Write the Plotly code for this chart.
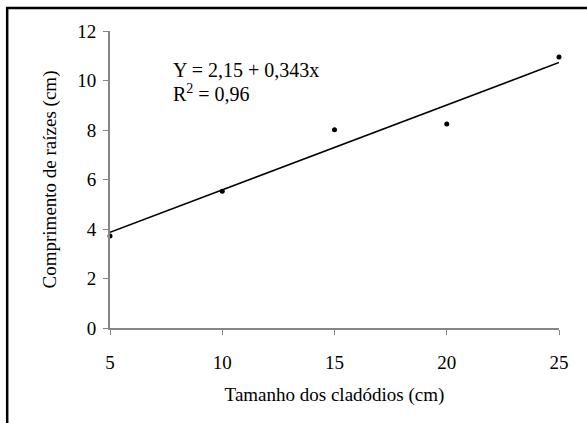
import plotly.graph_objects as go

x_vals = [5, 10, 15, 20, 25]
y_vals = [3.72, 5.53, 8.01, 8.24, 10.95]
fit_a = 2.15
fit_b = 0.343
x_ticks = [5, 10, 15, 20, 25]
y_ticks = [0, 2, 4, 6, 8, 10, 12]

fit_x = [min(x_vals), max(x_vals)]
fit_y = [fit_a + fit_b * v for v in fit_x]

font_family = "Liberation Serif"

fig = go.Figure()
fig.add_trace(go.Scatter(x=fit_x, y=fit_y, mode="lines",
                         line=dict(color="black", width=1.5), showlegend=False))
fig.add_trace(go.Scatter(x=x_vals, y=y_vals, mode="markers",
                         marker=dict(color="black", size=5), showlegend=False,
                         cliponaxis=False))

axis_common = dict(showgrid=False, zeroline=False, showline=True,
                   linecolor="#868686", linewidth=2, ticks="outside",
                   tickcolor="#868686", ticklen=5, tickwidth=1,
                   tickfont=dict(family=font_family, size=19, color="black"))

fig.update_xaxes(range=[5, 25], tickvals=x_ticks, **axis_common,
                 title=dict(text="Tamanho dos cladódios (cm)",
                            font=dict(family=font_family, size=19, color="black"),
                            standoff=16))
fig.update_yaxes(range=[0, 12], tickvals=y_ticks, **axis_common,
                 title=dict(text="Comprimento de raízes (cm)",
                            font=dict(family=font_family, size=19, color="black"),
                            standoff=16))
fig.update_xaxes(ticklabelstandoff=11)
fig.update_yaxes(ticklabelstandoff=3)

fig.add_annotation(xref="x", yref="y", x=7.72, y=10.42, xanchor="left", yanchor="middle",
                   text="Y = 2,15 + 0,343x", showarrow=False,
                   font=dict(family=font_family, size=20, color="black"))
fig.add_annotation(xref="x", yref="y", x=7.72, y=9.5, xanchor="left", yanchor="middle",
                   text="R<sup>2</sup> = 0,96", showarrow=False,
                   font=dict(family=font_family, size=20, color="black"))

fig.add_shape(type="rect", xref="paper", yref="paper",
              x0=-0.229, x1=1.3, y0=-0.6, y1=1.0775,
              line=dict(color="black", width=2.5))

fig.update_layout(width=587, height=423, plot_bgcolor="white", paper_bgcolor="white",
                  margin=dict(l=110, r=28, t=31, b=95))
fig.write_html("out.html", config={"displayModeBar": False},
               post_script="document.body.style.margin='0';")
